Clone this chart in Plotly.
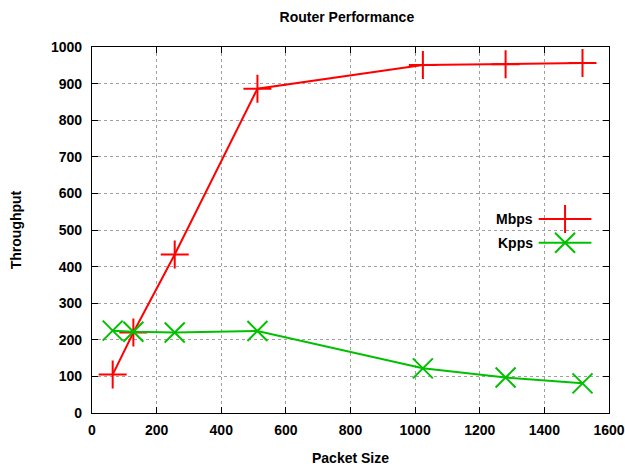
import plotly.graph_objects as go

packet_size = [64, 128, 256, 512, 1024, 1280, 1518]
mbps = [105, 220, 433, 886, 951, 953, 956]
kpps = [225, 222, 220, 224, 122, 97, 81]
x_ticks = [0, 200, 400, 600, 800, 1000, 1200, 1400, 1600]
y_ticks = [0, 100, 200, 300, 400, 500, 600, 700, 800, 900, 1000]

RED = "#ff0000"
GREEN = "#00c000"
FONT = "Liberation Sans, Arial, sans-serif"

fig = go.Figure()
fig.add_trace(go.Scatter(x=packet_size, y=mbps, mode="lines+markers", name="Mbps",
                         line=dict(color=RED, width=2),
                         marker=dict(symbol="cross-thin", size=20, line=dict(color=RED, width=2)),
                         showlegend=False))
fig.add_trace(go.Scatter(x=packet_size, y=kpps, mode="lines+markers", name="Kpps",
                         line=dict(color=GREEN, width=2),
                         marker=dict(symbol="x-thin", size=20, line=dict(color=GREEN, width=2)),
                         showlegend=False))

# custom legend (text left, sample right) on an overlay axis with fixed [0,1] range
leg = [("Mbps", RED, "cross-thin", 0.53), ("Kpps", GREEN, "x-thin", 0.465)]
for name, col, sym, yy in leg:
    fig.add_trace(go.Scatter(x=[0.864, 0.966], y=[yy, yy], mode="lines", xaxis="x2", yaxis="y2",
                             line=dict(color=col, width=2), showlegend=False, hoverinfo="skip"))
    fig.add_trace(go.Scatter(x=[0.915], y=[yy], mode="markers", xaxis="x2", yaxis="y2",
                             marker=dict(symbol=sym, size=20, line=dict(color=col, width=2)),
                             showlegend=False, hoverinfo="skip"))
    fig.add_annotation(x=0.856, y=yy, xref="x2", yref="y2", text="<b>%s</b>" % name,
                       showarrow=False, xanchor="right", yanchor="middle",
                       font=dict(family=FONT, size=14, color="black"))

axis_common = dict(showline=True, linecolor="black", linewidth=1.2, mirror="ticks",
                   ticks="inside", ticklen=6, tickcolor="black", tickwidth=1.2,
                   showgrid=True, gridcolor="#a0a0a0", griddash="dot", gridwidth=1,
                   zeroline=False, automargin=False, ticklabeloverflow="allow",
                   tickfont=dict(family=FONT, size=14, color="black"))

fig.update_layout(
    width=625, height=470,
    paper_bgcolor="white", plot_bgcolor="white",
    margin=dict(l=92, r=16, t=47, b=57),
    title=dict(text="<b>Router Performance</b>", x=0.555, xanchor="center", y=0.964, yanchor="middle",
               font=dict(family=FONT, size=14, color="black")),
    xaxis=dict(range=[0, 1600], tickvals=x_ticks, ticktext=["<b>%d</b>" % v for v in x_ticks],
               ticklabelstandoff=4,
               title=dict(text="<b>Packet Size</b>", standoff=16,
                          font=dict(family=FONT, size=14, color="black")),
               **axis_common),
    yaxis=dict(range=[0, 1000], tickvals=y_ticks, ticktext=["<b>%d</b>" % v for v in y_ticks],
               ticklabelstandoff=6,
               title=dict(text="<b>Throughput</b>", standoff=26,
                          font=dict(family=FONT, size=14, color="black")),
               **axis_common),
    xaxis2=dict(overlaying="x", range=[0, 1], visible=False, fixedrange=True),
    yaxis2=dict(overlaying="y", range=[0, 1], visible=False, fixedrange=True),
)

fig.write_html("out.html", config={"displayModeBar": False},
               post_script="document.body.style.margin='0px';")
